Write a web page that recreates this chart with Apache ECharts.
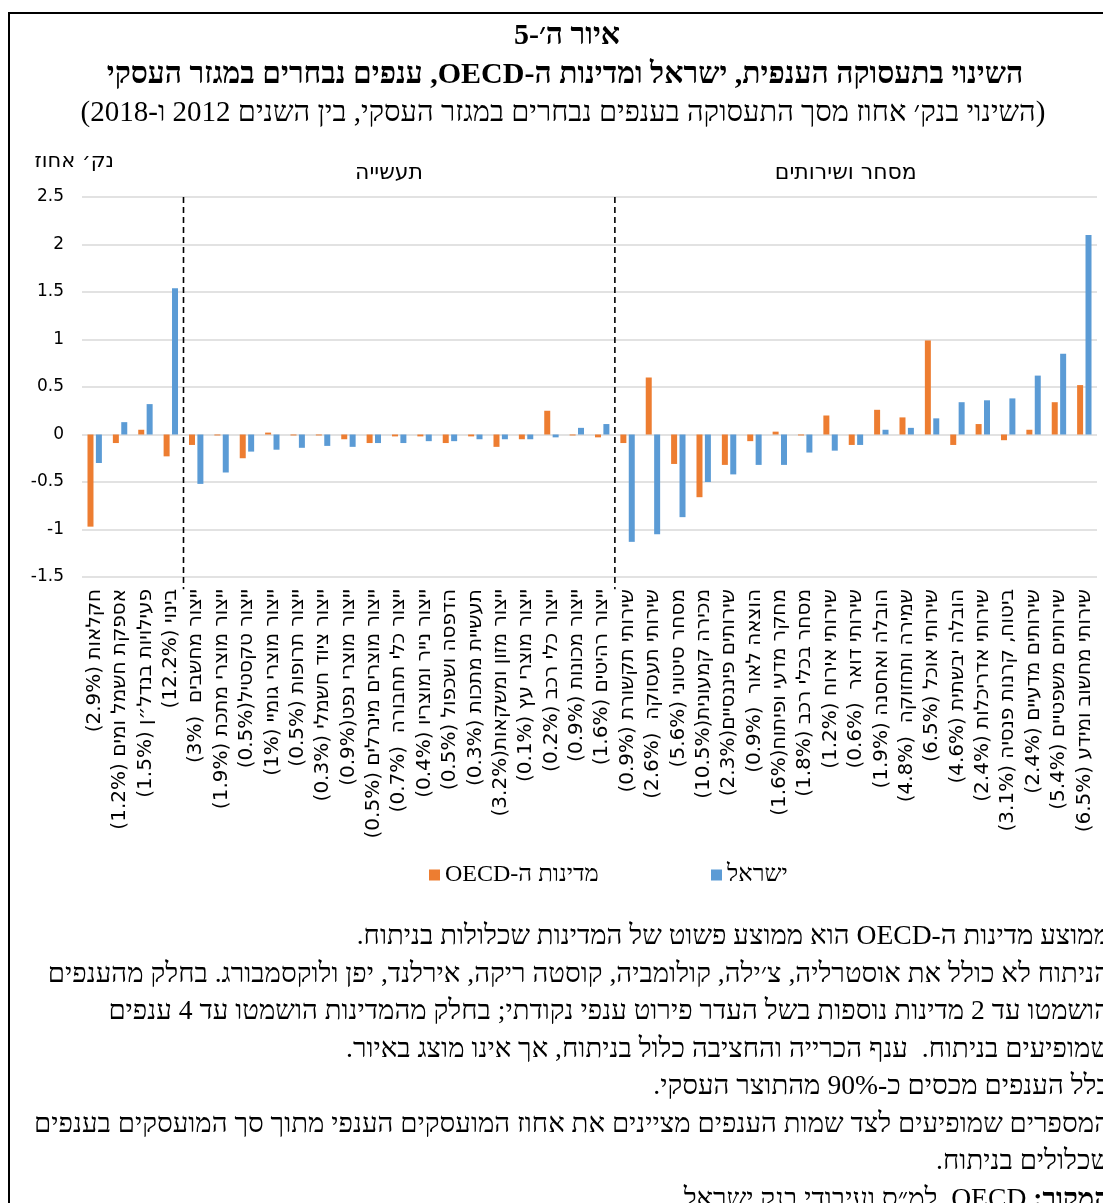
<!DOCTYPE html>
<html dir="rtl">
<head>
<meta charset="utf-8">
<script src="https://cdn.jsdelivr.net/npm/echarts@6/dist/echarts.min.js"></script>
<style>
html,body{margin:0;padding:0;background:#fff;}
#chart{width:1103px;height:1203px;}
</style>
</head>
<body>
<div id="chart"></div>
<script>
// ---- data ----
const categories = [
  'חקלאות (2.9%)',
  'אספקת חשמל ומים (1.2%)',
  'פעילויות בנדל״ן (1.5%)',
  'בינוי (12.2%)',
  'ייצור מחשבים  (3%)',
  'ייצור מוצרי מתכת (1.9%)',
  'ייצור טקסטיל(0.5%)',
  'ייצור מוצרי גומיי (1%)',
  'ייצור תרופות (0.5%)',
  'ייצור ציוד חשמלי (0.3%)',
  'ייצור מוצרי נפט(0.9%)',
  'ייצור מוצרים מינרלים (0.5%)',
  'ייצור כלי תחבורה  (0.7%)',
  'ייצור נייר ומוצריו (0.4%)',
  'הדפסה ושכפול (0.5%)',
  'תעשיית מתכות (0.3%)',
  'ייצור מזון ומשקאות(3.2%)',
  'ייצור מוצרי עץ (0.1%)',
  'ייצור כלי רכב (0.2%)',
  'ייצור מכונות (0.9%)',
  'ייצור רהיטים (1.6%)',
  'שירותי תקשורת (0.9%)',
  'שירותי תעסוקה  (2.6%)',
  'מסחר סיטוני (5.6%)',
  'מכירה קמעונית(10.5%)',
  'שירותים פיננסיים(2.3%)',
  'הוצאה לאור  (0.9%)',
  'מחקר מדעי ופיתוח(1.6%)',
  'מסחר בכלי רכב (1.8%)',
  'שירותי אירוח (1.2%)',
  'שירותי דואר  (0.6%)',
  'הובלה ואחסנה (1.9%)',
  'שמירה ותחזוקה  (4.8%)',
  'שירותי אוכל (6.5%)',
  'הובלה יבשתית (4.6%)',
  'שירותי אדריכלות (2.4%)',
  'ביטוח, קרנות פנסיה (3.1%)',
  'שירותים מדעיים (2.4%)',
  'שירותים משפטיים (5.4%)',
  'שירותי מחשוב ומידע (6.5%)'
];
const oecd = [-0.97, -0.09, 0.05, -0.23, -0.11, -0.01, -0.25, 0.02, -0.01, -0.01,
  -0.05, -0.09, -0.02, -0.02, -0.09, -0.02, -0.13, -0.05, 0.25, -0.01,
  -0.03, -0.09, 0.60, -0.31, -0.66, -0.32, -0.07, 0.03, -0.01, 0.20,
  -0.11, 0.26, 0.18, 0.99, -0.11, 0.11, -0.06, 0.05, 0.34, 0.52];
const israel = [-0.30, 0.13, 0.32, 1.54, -0.52, -0.40, -0.18, -0.16, -0.14, -0.12,
  -0.13, -0.09, -0.09, -0.07, -0.07, -0.05, -0.05, -0.05, -0.03, 0.07,
  0.11, -1.13, -1.05, -0.87, -0.50, -0.42, -0.32, -0.32, -0.19, -0.17,
  -0.11, 0.05, 0.07, 0.17, 0.34, 0.36, 0.38, 0.62, 0.85, 2.10];
const seriesNames = ['מדינות ה-OECD', 'ישראל'];
const groupSizes = [4, 17, 19];
const groupNames = ['', 'תעשייה', 'מסחר ושירותים'];
const yTicks = {min: -1.5, max: 2.5, interval: 0.5};
const titleLines = [
  'איור ה׳-5',
  'השינוי בתעסוקה הענפית, ישראל ומדינות ה-OECD, ענפים נבחרים במגזר העסקי',
  '(השינוי בנק׳ אחוז מסך התעסוקה בענפים נבחרים במגזר העסקי, בין השנים 2012 ו-2018)'
];
const yUnit = 'נק׳ אחוז';
const notes = [
  'ממוצע מדינות ה-OECD הוא ממוצע פשוט של המדינות שכלולות בניתוח.',
  'הניתוח לא כולל את אוסטרליה, צ׳ילה, קולומביה, קוסטה ריקה, אירלנד, יפן ולוקסמבורג. בחלק מהענפים',
  'הושמטו עד 2 מדינות נוספות בשל העדר פירוט ענפי נקודתי; בחלק מהמדינות הושמטו עד 4 ענפים',
  'שמופיעים בניתוח.  ענף הכרייה והחציבה כלול בניתוח, אך אינו מוצג באיור.',
  'כלל הענפים מכסים כ-90% מהתוצר העסקי.',
  'המספרים שמופיעים לצד שמות הענפים מציינים את אחוז המועסקים הענפי מתוך סך המועסקים בענפים',
  'שכלולים בניתוח.'
];
const sourceLabel = 'המקור:';
const sourceText = 'OECD, למ״ס ועיבודי בנק ישראל';

// ---- derived ----
const breaks = [];
let acc = 0;
for (let i = 0; i < groupSizes.length - 1; i++) { acc += groupSizes[i]; breaks.push(acc - 0.5); }

const ORANGE = '#ED7D31', BLUE = '#5B9BD5';
const SERIF = '"Liberation Serif","DejaVu Serif",serif';
const SANS = '"DejaVu Sans","Liberation Sans",sans-serif';
const NOTE_SIZE = 27.6;

const chart = echarts.init(document.getElementById('chart'));

const dashedSeries = breaks.map(b => ({
  type: 'line', xAxisIndex: 1, yAxisIndex: 0, clip: false, silent: true,
  symbol: 'none', data: [[b, yTicks.max], [b, -1.63]],
  lineStyle: {color: '#000', width: 1.6, type: [6, 4]}, z: 5, animation: false
}));

const option = {
  animation: false,
  backgroundColor: '#fff',
  grid: {left: 82, right: 6, top: 197, bottom: 626, containLabel: false},
  legend: [
    {data: [seriesNames[0]], left: 424, top: 858, itemWidth: 11, itemHeight: 11, icon: 'rect',
     textStyle: {fontFamily: SERIF, fontSize: 24, color: '#000'}},
    {data: [seriesNames[1]], left: 706, top: 858, itemWidth: 11, itemHeight: 11, icon: 'rect',
     textStyle: {fontFamily: SERIF, fontSize: 24, color: '#000'}}
  ],
  xAxis: [
    {type: 'category', data: categories, position: 'bottom',
     axisLine: {show: false, onZero: false}, axisTick: {show: false},
     axisLabel: {interval: 0, rotate: 90, margin: 12, fontFamily: SANS, fontSize: 20, color: '#000'},
     splitLine: {show: false}},
    {type: 'value', min: -0.5, max: categories.length - 0.5, show: false}
  ],
  yAxis: {
    type: 'value', min: yTicks.min, max: yTicks.max, interval: yTicks.interval,
    axisLine: {show: false}, axisTick: {show: false},
    axisLabel: {fontFamily: SANS, fontSize: 17, color: '#000', margin: 18,
      formatter: v => '\u202A' + v + '\u202C'},
    splitLine: {lineStyle: {color: '#d9d9d9', width: 1.5}}
  },
  series: [
    {name: seriesNames[0], type: 'bar', data: oecd, barWidth: 6, barGap: '40%',
     itemStyle: {color: ORANGE}},
    {name: seriesNames[1], type: 'bar', data: israel, barWidth: 6, barGap: '40%',
     itemStyle: {color: BLUE}},
    ...dashedSeries
  ]
};
chart.setOption(option);

// annotations
const graphics = [];
graphics.push({type: 'line', shape: {x1: 9, y1: 12, x2: 9, y2: 1203}, style: {stroke: '#000', lineWidth: 2}});
graphics.push({type: 'line', shape: {x1: 8, y1: 13, x2: 1103, y2: 13}, style: {stroke: '#000', lineWidth: 2}});
graphics.push({type: 'text', x: 567, y: 36, style: {text: titleLines[0], fontFamily: SERIF, fontWeight: 'bold', fontSize: 30, fill: '#000', textAlign: 'center', textVerticalAlign: 'middle'}});
graphics.push({type: 'text', x: 565, y: 75, style: {text: titleLines[1], fontFamily: SERIF, fontWeight: 'bold', fontSize: 30, fill: '#000', textAlign: 'center', textVerticalAlign: 'middle'}});
graphics.push({type: 'text', x: 563, y: 113, style: {text: titleLines[2], fontFamily: SERIF, fontSize: 29, fill: '#000', textAlign: 'center', textVerticalAlign: 'middle'}});
graphics.push({type: 'text', x: 114, y: 162, style: {text: yUnit, fontFamily: SANS, fontSize: 21, fill: '#000', textAlign: 'right', textVerticalAlign: 'middle'}});
let start = 0;
groupSizes.forEach((n, i) => {
  if (groupNames[i]) {
    const mid = start + (n - 1) / 2 - 0.4;
    const px = chart.convertToPixel({xAxisIndex: 1}, mid);
    graphics.push({type: 'text', x: px, y: 173, style: {text: groupNames[i], fontFamily: SANS, fontSize: 22, fill: '#000', textAlign: 'center', textVerticalAlign: 'middle'}});
  }
  start += n;
});
notes.forEach((t, i) => {
  graphics.push({type: 'text', x: 1110, y: 937 + i * 37.5, style: {text: t, fontFamily: SERIF, fontSize: NOTE_SIZE, fill: '#000', textAlign: 'right', textVerticalAlign: 'middle'}});
});
const srcY = 937 + notes.length * 37.5;
const mctx = document.createElement('canvas').getContext('2d');
mctx.font = 'bold ' + NOTE_SIZE + 'px ' + SERIF;
const labW = mctx.measureText(sourceLabel + ' ').width;
graphics.push({type: 'text', x: 1110, y: srcY, style: {text: sourceLabel, fontFamily: SERIF, fontWeight: 'bold', fontSize: NOTE_SIZE, fill: '#000', textAlign: 'right', textVerticalAlign: 'middle'}});
graphics.push({type: 'text', x: 1110 - labW, y: srcY, style: {text: sourceText, fontFamily: SERIF, fontSize: NOTE_SIZE, fill: '#000', textAlign: 'right', textVerticalAlign: 'middle'}});

chart.setOption({graphic: graphics});
</script>
</body>
</html>
